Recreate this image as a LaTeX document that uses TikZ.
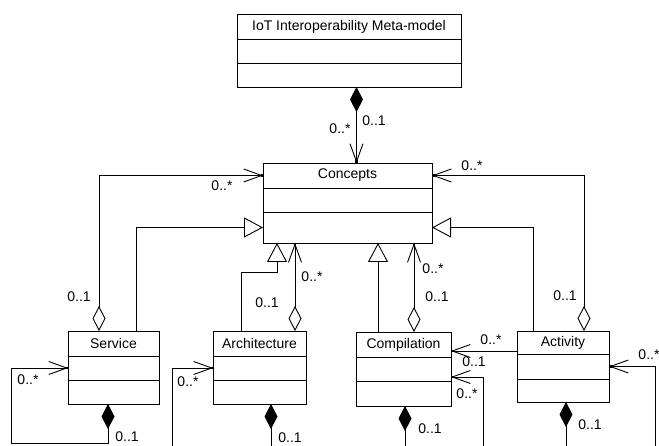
\documentclass[tikz,border=0pt]{standalone}
\usepackage{fontspec}
\setmainfont{Liberation Sans}
\usetikzlibrary{positioning, arrows.meta}

\begin{document}
\begin{tikzpicture}[x=1pt,y=-1pt,font=\fontsize{14}{16}\selectfont,line width=0.9pt,
  >={Straight Barb[length=18pt,width=13pt,sep=-2.5pt]Square[length=2.5pt,width=2.5pt]},
  cls/.style={draw,inner sep=0pt,outer sep=0pt,minimum height=24pt},
  lbl/.style={inner sep=0pt},
  comp/.style={{Diamond[length=25pt,width=13pt]}->},
  aggr/.style={{Diamond[open,length=25pt,width=13pt]}->},
  gen/.style={-{Triangle[open,length=19pt,width=20pt]}}]
  \useasboundingbox (0,0) rectangle (659,446);
  % classes
  \node[cls,minimum width=224pt,minimum height=25pt,anchor=north west](meta) at (237,14) {IoT Interoperability Meta-model};
  \node[cls,minimum width=224pt,below=0pt of meta](meta1){};
  \node[cls,minimum width=224pt,below=0pt of meta1](meta2){};
  \node[cls,minimum width=169pt,minimum height=25pt,anchor=north west](concepts) at (263,163) {Concepts};
  \node[cls,minimum width=169pt,below=0pt of concepts](concepts1){};
  \node[cls,minimum width=169pt,minimum height=31pt,below=0pt of concepts1](concepts2){};
  \node[cls,minimum width=91pt,minimum height=25pt,anchor=north west](service) at (68,331) {Service};
  \node[cls,minimum width=91pt,below=0pt of service](service1){};
  \node[cls,minimum width=91pt,below=0pt of service1](service2){};
  \node[cls,minimum width=93pt,minimum height=25pt,anchor=north west](architecture) at (213,331) {Architecture};
  \node[cls,minimum width=93pt,below=0pt of architecture](architecture1){};
  \node[cls,minimum width=93pt,below=0pt of architecture1](architecture2){};
  \node[cls,minimum width=95pt,minimum height=25pt,anchor=north west](compilation) at (356,332) {Compilation};
  \node[cls,minimum width=95pt,below=0pt of compilation](compilation1){};
  \node[cls,minimum width=95pt,minimum height=25pt,below=0pt of compilation1](compilation2){};
  \node[cls,minimum width=92pt,minimum height=23pt,anchor=north west](activity) at (517,331) {Activity};
  \node[cls,minimum width=92pt,minimum height=25pt,below=0pt of activity](activity1){};
  \node[cls,minimum width=92pt,minimum height=23pt,below=0pt of activity1](activity2){};
  % meta-model owns concepts
  \coordinate (mc) at ([xshift=7.5pt]meta2.south);
  \draw[comp](mc)--(mc |- concepts.north);
  \node[lbl](mcs) at (340,129){0..*};
  \node[lbl](mco) at (374,121){0..1};
  % links to concepts
  \coordinate (sa) at ([xshift=-14.5pt]service.north);
  \draw[aggr](sa)|-(concepts.west);
  \coordinate (sg) at ([xshift=22.5pt]service.north);
  \draw[gen](sg)|-(concepts2.west);
  \coordinate (ag) at ([xshift=-18.5pt]architecture.north);
  \coordinate (agt) at ([xshift=-70.5pt]concepts2.south);
  \draw[gen](ag)|-([yshift=-29pt]agt)--(agt);
  \coordinate (aa) at ([xshift=35.5pt]architecture.north);
  \draw[aggr](aa)--(aa |- concepts2.south);
  \coordinate (cg) at ([xshift=-25.5pt]compilation.north);
  \draw[gen](cg)--(cg |- concepts2.south);
  \coordinate (ca) at ([xshift=10.5pt]compilation.north);
  \draw[aggr](ca)--(ca |- concepts2.south);
  \coordinate (tg) at ([xshift=-30pt]activity.north);
  \draw[gen](tg)|-(concepts2.east);
  \coordinate (ta) at ([xshift=21pt]activity.north);
  \draw[aggr](ta)|-(concepts.east);
  \node[lbl](sas) at (222,186){0..*};
  \node[lbl](sao) at (79,297){0..1};
  \node[lbl](aas) at (312,277){0..*};
  \node[lbl](aao) at (267,303){0..1};
  \node[lbl](cas) at (433,269){0..*};
  \node[lbl](cao) at (437,297){0..1};
  \node[lbl](tas) at (472,166){0..*};
  \node[lbl](tao) at (565,296){0..1};
  % activity to compilation
  \coordinate (tc) at ([yshift=3pt]activity.south west);
  \draw[->](tc)--(tc -| compilation.east);
  \node[lbl](tcs) at (491,340){0..*};
  \node[lbl](tco) at (474,362){0..1};
  % self loops
  \draw[comp]([xshift=-5.5pt]service2.south)--++(0,39)-|([xshift=-57pt]service1.west)--(service1.west);
  \draw[comp]([xshift=11.5pt]architecture2.south)--++(0,48)-|([xshift=-41pt]architecture1.west)--(architecture1.west);
  \draw[comp]([xshift=1.5pt]compilation2.south)--++(0,46)-|([xshift=32pt,yshift=4pt]compilation1.south east)--([yshift=4pt]compilation1.south east);
  \draw[comp]([xshift=3pt]activity2.south)--++(0,50)-|([xshift=46pt]activity1.east)--(activity1.east);
  \node[lbl](sls) at (28,380){0..*};
  \node[lbl](slo) at (127,437){0..1};
  \node[lbl](als) at (188,382){0..*};
  \node[lbl](alo) at (290,438){0..1};
  \node[lbl](cls) at (467,394){0..*};
  \node[lbl](clo) at (430,429){0..1};
  \node[lbl](tls) at (649,355){0..*};
  \node[lbl](tlo) at (590,425){0..1};
\end{tikzpicture}
\end{document}
